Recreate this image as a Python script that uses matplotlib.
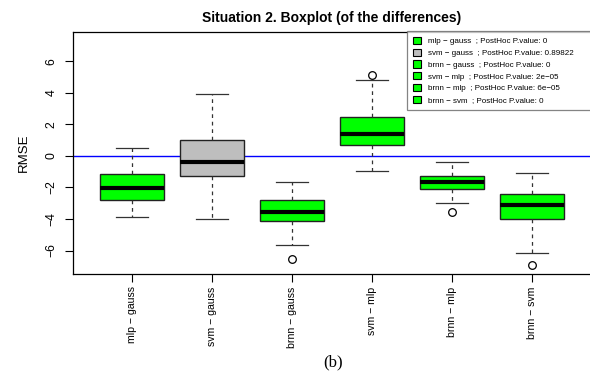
import matplotlib.pyplot as plt
from matplotlib.patches import Patch

plt.rcParams['font.family'] = ['Liberation Sans', 'DejaVu Sans']

# comparisons and box statistics
names = ["mlp − gauss", "svm − gauss", "brnn − gauss", "svm − mlp", "brnn − mlp", "brnn − svm"]
p_values = ["0", "0.89822", "0", "2e−05", "6e−05", "0"]
whis_lo = [-3.89, -4.02, -5.67, -0.97, -2.96, -6.18]
q1 = [-2.79, -1.29, -4.11, 0.72, -2.12, -4.02]
med = [-2.05, -0.40, -3.58, 1.38, -1.65, -3.13]
q3 = [-1.12, 1.04, -2.81, 2.46, -1.29, -2.39]
whis_hi = [0.53, 3.94, -1.63, 4.85, -0.40, -1.08]
fliers = [[], [], [-6.56], [5.12], [-3.53], [-6.92]]
significant = [True, False, True, True, True, True]

colors = ["#00ff00" if s else "#bebebe" for s in significant]

fig = plt.figure(figsize=(5.9, 3.71), dpi=100)
ax = fig.add_axes([0.1232, 0.2615, 0.879, 0.6522])

stats = []
for i in range(len(names)):
    stats.append(dict(med=med[i], q1=q1[i], q3=q3[i], whislo=whis_lo[i],
                      whishi=whis_hi[i], fliers=fliers[i], label=names[i]))

bp = ax.bxp(stats, positions=range(1, 7), widths=0.8, patch_artist=True,
            boxprops=dict(edgecolor="#222222", linewidth=1.0),
            medianprops=dict(color="black", linewidth=3.0, solid_capstyle="butt"),
            whiskerprops=dict(color="#333333", linewidth=0.9, linestyle=(0, (3, 3))),
            capprops=dict(color="#333333", linewidth=0.9),
            flierprops=dict(marker="o", markerfacecolor="none", markeredgecolor="black",
                            markersize=5.5, markeredgewidth=0.9),
            capwidths=0.4)
for patch, c in zip(bp["boxes"], colors):
    patch.set_facecolor(c)

ax.axhline(0, color="blue", linewidth=1.0, zorder=0.5)

ax.set_xlim(0.26, 6.74)
ax.set_ylim(-7.49, 7.87)
ax.set_yticks([-6, -4, -2, 0, 2, 4, 6])
ax.set_yticklabels(["−6", "−4", "−2", "0", "2", "4", "6"], rotation=90, va="center", fontsize=8.8)
ax.set_xticks(range(1, 7))
ax.set_xticklabels(names, rotation=90, fontsize=7.6)
ax.tick_params(axis="both", length=6, width=0.8, pad=3)
ax.tick_params(axis="y", pad=5)
ax.set_ylabel("RMSE", fontsize=9.5, labelpad=11)
for s in ax.spines.values():
    s.set_linewidth(0.9)

ax.set_title("Situation 2. Boxplot (of the differences)", fontsize=10, fontweight="bold", pad=7)

handles = [Patch(facecolor=c, edgecolor="black", linewidth=0.8) for c in colors]
labels = [f"{n}  ; PostHoc P.value: {p}" for n, p in zip(names, p_values)]
leg = ax.legend(handles, labels, loc="upper left", bbox_to_anchor=(0.645, 1.003, 0.36, 0),
                mode="expand", fontsize=5.8, frameon=True, fancybox=False, handlelength=1.0,
                handleheight=1.0, handletextpad=0.9, labelspacing=0.42,
                borderpad=0.7, borderaxespad=0)
leg.get_frame().set_edgecolor("#666666")
leg.get_frame().set_linewidth(0.9)

fig.text(0.565, 0.012, "(b)", fontsize=12, family="Liberation Serif", ha="center")

fig.savefig("out.png", dpi=100)
